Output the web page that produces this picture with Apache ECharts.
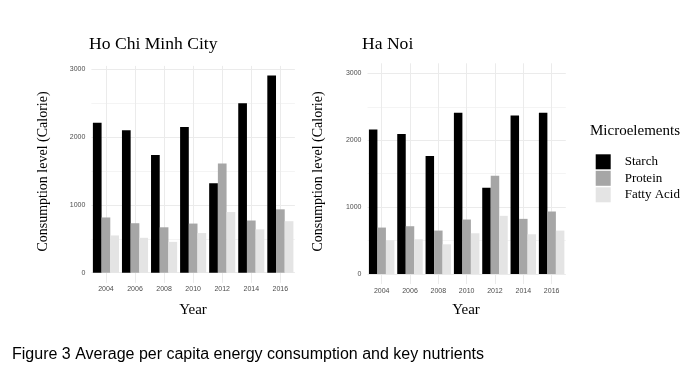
<!DOCTYPE html>
<html>
<head>
<meta charset="utf-8">
<script src="https://cdn.jsdelivr.net/npm/echarts@6/dist/echarts.min.js"></script>
<style>
  html, body { margin: 0; padding: 0; background: #fff; }
  #chart { width: 690px; height: 377px; }
</style>
</head>
<body>
<div id="chart"></div>
<script>
const years = ['2004', '2006', '2008', '2010', '2012', '2014', '2016'];
const nutrients = ['Starch', 'Protein', 'Fatty Acid'];
const nutrientColors = ['#000000', '#a6a6a6', '#e4e4e4'];

// Ho Chi Minh City
const hcmStarch = [2210, 2100, 1735, 2150, 1320, 2500, 2910];
const hcmProtein = [815, 730, 670, 725, 1610, 770, 935];
const hcmFat = [550, 515, 455, 585, 895, 640, 760];

// Ha Noi
const hnStarch = [2160, 2095, 1765, 2410, 1290, 2370, 2410];
const hnProtein = [695, 715, 650, 815, 1470, 825, 935];
const hnFat = [505, 520, 445, 610, 870, 595, 650];

const serif = 'Liberation Serif';
const sans = 'Liberation Sans';

// y ticks every 50 from -150: only show lines at multiples of 500
const gridColors = [];
for (let i = 0; i < 20; i++) {
  gridColors.push(i === 3 ? '#ebebeb' : i === 13 ? '#f4f4f4' : 'rgba(0,0,0,0)');
}

function xAxisFor(gridIndex) {
  return {
    type: 'category',
    gridIndex: gridIndex,
    data: years,
    axisLine: { show: false },
    axisTick: { show: false },
    axisLabel: { fontSize: 7, color: '#4d4d4d', fontFamily: sans, margin: 3 },
    splitLine: { show: true, alignWithLabel: true, lineStyle: { color: '#ebebeb', width: 1 } }
  };
}

function yAxisFor(gridIndex, max) {
  return {
    type: 'value',
    gridIndex: gridIndex,
    min: -150,
    max: max,
    interval: 50,
    axisLine: { show: false },
    axisTick: { show: false },
    axisLabel: {
      fontSize: 7,
      color: '#4d4d4d',
      fontFamily: sans,
      margin: 6,
      formatter: v => (Math.round(v) >= 0 && Math.round(v) % 1000 === 0) ? String(Math.round(v)) : ''
    },
    splitLine: { show: true, lineStyle: { color: gridColors, width: 1 } }
  };
}

function barSeries(name, data, idx, color, width) {
  return {
    name: name,
    type: 'bar',
    xAxisIndex: idx,
    yAxisIndex: idx,
    data: data,
    barWidth: width,
    barGap: '0%',
    itemStyle: { color: color },
    animation: false
  };
}

const chart = echarts.init(document.getElementById('chart'));

const option = {
  backgroundColor: '#ffffff',
  animation: false,
  grid: [
    { left: 91.4, top: 65.9, width: 203.5, height: 217 },
    { left: 367.5, top: 63.3, width: 198.3, height: 220.8 }
  ],
  xAxis: [xAxisFor(0), xAxisFor(1)],
  yAxis: [yAxisFor(0, 3050), yAxisFor(1, 3150)],
  legend: {
    data: nutrients,
    orient: 'vertical',
    left: 590.7,
    top: 149.3,
    itemWidth: 15,
    itemHeight: 15,
    itemGap: 1.5,
    icon: 'rect',
    textStyle: { fontFamily: serif, fontSize: 13, color: '#000', padding: [0, 0, 0, 9], lineHeight: 15 }
  },
  graphic: [
    { type: 'text', x: 89, y: 44, style: { text: 'Ho Chi Minh City', font: '17.6px "Liberation Serif"', fill: '#000', verticalAlign: 'middle' } },
    { type: 'text', x: 362, y: 44, style: { text: 'Ha Noi', font: '17.6px "Liberation Serif"', fill: '#000', verticalAlign: 'middle' } },
    { type: 'text', x: 43, y: 171.5, rotation: Math.PI / 2, style: { text: 'Consumption level (Calorie)', font: '14px "Liberation Serif"', fill: '#000', align: 'center', verticalAlign: 'middle' } },
    { type: 'text', x: 318, y: 171.5, rotation: Math.PI / 2, style: { text: 'Consumption level (Calorie)', font: '14px "Liberation Serif"', fill: '#000', align: 'center', verticalAlign: 'middle' } },
    { type: 'text', x: 193, y: 310, style: { text: 'Year', font: '15px "Liberation Serif"', fill: '#000', align: 'center', verticalAlign: 'middle' } },
    { type: 'text', x: 466, y: 310, style: { text: 'Year', font: '15px "Liberation Serif"', fill: '#000', align: 'center', verticalAlign: 'middle' } },
    { type: 'text', x: 590, y: 131.5, style: { text: 'Microelements', font: '15px "Liberation Serif"', fill: '#000', verticalAlign: 'middle' } },
    { type: 'text', x: 12, y: 355, style: { text: 'Figure 3 Average per capita energy consumption and key nutrients', font: '16px "Liberation Sans"', fill: '#000', verticalAlign: 'middle' } }
  ],
  series: [
    barSeries('Starch', hcmStarch, 0, nutrientColors[0], 8.7),
    barSeries('Protein', hcmProtein, 0, nutrientColors[1], 8.7),
    barSeries('Fatty Acid', hcmFat, 0, nutrientColors[2], 8.7),
    barSeries('Starch', hnStarch, 1, nutrientColors[0], 8.5),
    barSeries('Protein', hnProtein, 1, nutrientColors[1], 8.5),
    barSeries('Fatty Acid', hnFat, 1, nutrientColors[2], 8.5)
  ]
};

chart.setOption(option);
window.addEventListener('resize', () => chart.resize());
</script>
</body>
</html>
